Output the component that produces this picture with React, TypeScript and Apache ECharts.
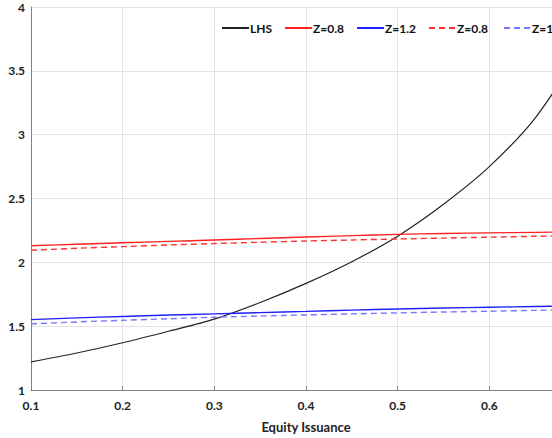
import React, { useEffect, useRef } from "react";
import * as echarts from "echarts";

const xValues = [0.1, 0.15, 0.2, 0.25, 0.3, 0.35, 0.4, 0.45, 0.5, 0.55, 0.6, 0.65, 0.7];
const lhs = [1.22, 1.29, 1.37, 1.46, 1.555, 1.685, 1.835, 2.005, 2.205, 2.455, 2.75, 3.13, 3.67];
const redSolid = [2.13, 2.142, 2.153, 2.164, 2.175, 2.187, 2.198, 2.209, 2.219, 2.226, 2.231, 2.235, 2.24];
const blueSolid = [1.551, 1.565, 1.576, 1.587, 1.596, 1.606, 1.616, 1.626, 1.635, 1.642, 1.648, 1.654, 1.659];
const redDashed = [2.095, 2.11, 2.123, 2.136, 2.147, 2.157, 2.167, 2.175, 2.183, 2.19, 2.197, 2.204, 2.21];
const blueDashed = [1.517, 1.533, 1.546, 1.558, 1.57, 1.579, 1.588, 1.596, 1.604, 1.611, 1.617, 1.624, 1.63];
const seriesNames = ["LHS", "Z=0.8", "Z=1.2", "Z=0.8 ", "Z=1.2 "];

const pairs = (ys: number[]) => xValues.map((x, i) => [x, ys[i]]);

export default function App() {
  const ref = useRef<HTMLDivElement>(null);
  useEffect(() => {
    if (!ref.current) return;
    const chart = echarts.init(ref.current, undefined, { renderer: "svg" });
    const font = "Lato";
    const mk = (name: string, data: number[], color: string, type: any, width: number) => ({
      name,
      type: "line",
      data: pairs(data),
      symbol: "none",
      showSymbol: false,
      smooth: 0.3,
      lineStyle: { color, width, type },
      itemStyle: { color },
    });
    chart.setOption({
      animation: false,
      textStyle: { fontFamily: font },
      legend: {
        left: 216,
        top: 17,
        itemWidth: 27,
        itemHeight: 14,
        itemGap: 12,
        itemStyle: { opacity: 0 },
        textStyle: { fontFamily: font, fontWeight: "bold", fontSize: 12, color: "#111", padding: [0, 0, 0, -4] },
        data: seriesNames,
      },
      grid: { left: 31, right: 19, top: 7, bottom: 48 },
      xAxis: {
        type: "value",
        min: 0.1,
        max: 0.7,
        interval: 0.1,
        name: "Equity Issuance",
        nameLocation: "middle",
        nameGap: 30,
        nameTextStyle: { fontFamily: font, fontWeight: "bold", fontSize: 13, color: "#222" },
        axisLine: { show: true, lineStyle: { color: "#808080", width: 1 } },
        axisTick: { show: true, inside: true, length: 4, lineStyle: { color: "#808080" } },
        axisLabel: {
          fontFamily: font,
          fontWeight: "bold",
          fontSize: 12,
          color: "#222",
          margin: 9,
          formatter: (v: number) => (v > 0.65 ? "" : v.toFixed(1)),
        },
        splitLine: { show: true, lineStyle: { color: "#e3e3e3", width: 1 } },
      },
      yAxis: {
        type: "value",
        min: 1,
        max: 4,
        interval: 0.5,
        axisLine: { show: true, lineStyle: { color: "#808080", width: 1 } },
        axisTick: { show: false },
        axisLabel: { fontFamily: font, fontWeight: "bold", fontSize: 12, color: "#222", margin: 6 },
        splitLine: { show: true, lineStyle: { color: "#e3e3e3", width: 1 } },
      },
      series: [
        mk(seriesNames[0], lhs, "#222222", "solid", 1.2),
        mk(seriesNames[1], redSolid, "#ff2020", "solid", 1.4),
        mk(seriesNames[2], blueSolid, "#2020ff", "solid", 1.4),
        mk(seriesNames[3], redDashed, "#ff3030", [6, 4], 1.4),
        mk(seriesNames[4], blueDashed, "#7878ff", [6, 4], 1.4),
      ],
    });
    return () => chart.dispose();
  }, []);
  return (
    <div style={{ position: "absolute", left: 0, top: 0, width: 552, height: 438, overflow: "hidden", background: "#fff" }}>
      <div ref={ref} style={{ width: 600, height: 438 }} />
    </div>
  );
}
